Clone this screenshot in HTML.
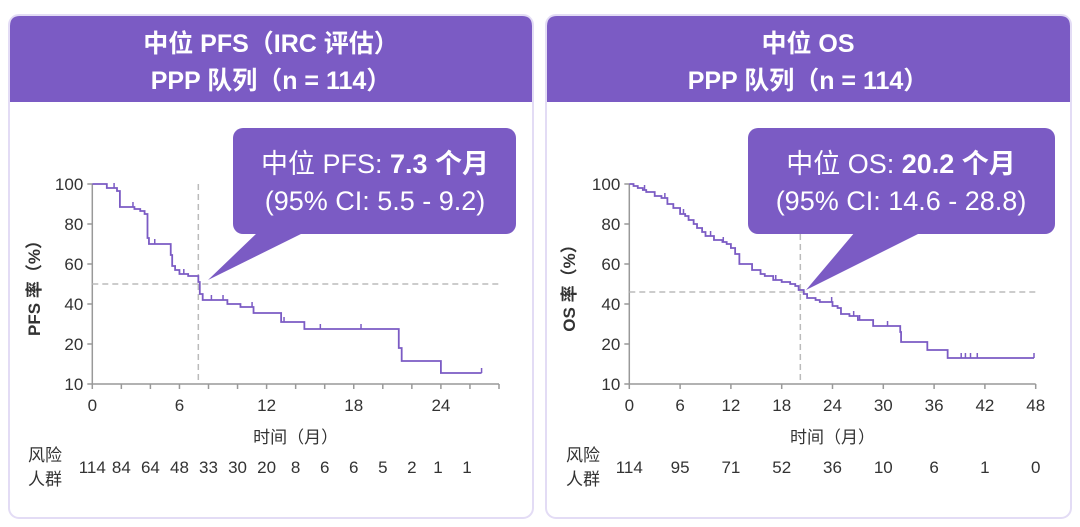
<!DOCTYPE html>
<html><head><meta charset="utf-8">
<style>
html,body{margin:0;padding:0;background:#fff;}
svg{display:block;font-family:"Liberation Sans","Noto Sans CJK SC",sans-serif;}
</style></head>
<body>
<svg id="chart" width="1080" height="527" viewBox="0 0 1080 527" xmlns="http://www.w3.org/2000/svg">
  <!-- Left panel -->
  <g>
    <rect x="9" y="15" width="524" height="503" rx="10" fill="#fff" stroke="#e3dcf5" stroke-width="2"/>
    <path d="M10 26 Q10 16 20 16 L522 16 Q532 16 532 26 L532 102 L10 102 Z" fill="#7b5bc4"/>
    <text x="271" y="52" text-anchor="middle" font-size="25" font-weight="bold" fill="#fff">中位 PFS（IRC 评估）</text>
    <text x="271" y="89" text-anchor="middle" font-size="25" font-weight="bold" fill="#fff">PPP 队列（n = 114）</text>
    <g id="pfsPlot"></g>
    <g>
      <rect x="233" y="128" width="283" height="106" rx="10" fill="#7b5bc4"/>
      <path d="M258 232 L208 280 L305 232 Z" fill="#7b5bc4"/>
      <text x="375" y="173" text-anchor="middle" font-size="27" fill="#fff">中位 PFS: <tspan font-weight="bold">7.3 个月</tspan></text>
      <text x="375" y="210" text-anchor="middle" font-size="27" fill="#fff">(95% CI: 5.5 - 9.2)</text>
    </g>
  </g>
  <!-- Right panel -->
  <g>
    <rect x="546" y="15" width="525" height="503" rx="10" fill="#fff" stroke="#e3dcf5" stroke-width="2"/>
    <path d="M547 26 Q547 16 557 16 L1060 16 Q1070 16 1070 26 L1070 102 L547 102 Z" fill="#7b5bc4"/>
    <text x="808" y="52" text-anchor="middle" font-size="25" font-weight="bold" fill="#fff">中位 OS</text>
    <text x="808" y="89" text-anchor="middle" font-size="25" font-weight="bold" fill="#fff">PPP 队列（n = 114）</text>
    <g id="osPlot"></g>
    <g>
      <rect x="748" y="128" width="307" height="106" rx="10" fill="#7b5bc4"/>
      <path d="M855 232 L806 290 L922 232 Z" fill="#7b5bc4"/>
      <text x="901" y="173" text-anchor="middle" font-size="27" fill="#fff">中位 OS:  <tspan font-weight="bold">20.2 个月</tspan></text>
      <text x="901" y="210" text-anchor="middle" font-size="27" fill="#fff">(95% CI: 14.6 - 28.8)</text>
    </g>
  </g>
</svg>
<script>
// PFS data (months, %)
const pfsTimes = [0,1.0,1.7,1.9,2.9,3.3,3.6,3.8,3.9,5.4,5.5,5.7,6.0,6.6,7.3,7.4,7.6,9.3,10.2,11.1,13.0,14.6,21.1,21.3,24.0];
const pfsSurv  = [100,98,96.5,88.5,87.5,86.5,85,73,70,64.5,59,57,55,54,51,45,42,40,38.5,35.5,31,27.5,18,11.5,5.5];
const pfsEnd = 26.8;
const pfsCensor = [1.5,2.8,4.3,6.3,8.2,9.0,11.0,13.2,15.7,18.5,26.8];
const pfsRiskTimes = [0,2,4,6,8,10,12,14,16,18,20,22,23.8,25.8];
const pfsRisk = [114,84,64,48,33,30,20,8,6,6,5,2,1,1];
const pfsXTicks = [0,6,12,18,24];
const pfsMedian = 7.3, pfsMedY = 50;

// OS data
const osTimes = [0,0.5,1,1.6,2,3,3.8,4.5,5.2,6,6.6,7,7.6,8,8.6,9,10,11,11.5,12,12.5,13,14.5,15.5,16,17,18,19,19.6,20,20.6,21,22,22.5,24,24.6,25,26,27,28.8,32,32.1,35.2,37.6];
const osSurv  = [100,99,98,97,96,94,93,90,88,85,84,82,80,78,76,74,72,71,70,68,65,60,57,55,54,52,51,50,49,47,45,43,42,41,39,38,35,34,32,29,26,21,17,13];
const osEnd = 47.8;
const osCensor = [1.8,4.2,6.4,9.6,11.1,17.3,23.9,26.5,27.2,30.5,39.2,39.7,40.3,41.1,47.8];
const osRiskTimes = [0,6,12,18,24,30,36,42,48];
const osRisk = [114,95,71,52,36,10,6,1,0];
const osXTicks = [0,6,12,18,24,30,36,42,48];
const osMedian = 20.2, osMedY = 46;

const yTicks = [0,20,40,60,80,100];
const yTickLabels = ['10','20','40','60','80','100'];

const NS = 'http://www.w3.org/2000/svg';
function mk(tag, attrs, parent){const e=document.createElementNS(NS,tag);for(const k in attrs)e.setAttribute(k,attrs[k]);parent.appendChild(e);return e;}

function draw(g, cfg){
  const x = t => cfg.x0 + (t/cfg.xMax)*(cfg.x1-cfg.x0);
  const y = v => 384 - v*2;
  const gray='#999';
  // axes
  let ax = mk('line',{x1:x(0),y1:y(0),x2:x(cfg.xMax),y2:y(0),stroke:gray,'stroke-width':1.5},g);
  
  
  let ay = mk('line',{x1:x(0),y1:y(0),x2:x(0),y2:y(100),stroke:gray,'stroke-width':1.5},g);
  
  
  yTicks.forEach((v,i)=>{
    mk('line',{x1:x(0)-5,y1:y(v),x2:x(0),y2:y(v),stroke:gray,'stroke-width':1.5},g);
    const t = mk('text',{x:x(0)-9,y:y(v)+6,'text-anchor':'end','font-size':17,fill:'#333'},g);
    t.textContent = yTickLabels[i];
    
    
  });
  for(let t=0;t<=cfg.xMax+0.001;t+=cfg.minor){
    mk('line',{x1:x(t),y1:y(0),x2:x(t),y2:y(0)+5,stroke:gray,'stroke-width':1.5},g);
  }
  cfg.xTicks.forEach(v=>{
    const t = mk('text',{x:x(v),y:y(0)+27,'text-anchor':'middle','font-size':17,fill:'#333'},g);
    t.textContent = v;
    
    
  });
  // axis titles
  const xt = mk('text',{x:(x(0)+x(cfg.xMax))/2,y:443,'text-anchor':'middle','font-size':17,fill:'#333'},g);
  xt.textContent='时间（月）';
  
  
  const yt = mk('text',{x:0,y:0,'text-anchor':'middle','font-size':17,'font-weight':'bold',fill:'#333',transform:`translate(${cfg.ytx},${y(50)}) rotate(-90)`},g);
  yt.textContent=cfg.ytitle;
  
  
  // median guides
  const dh = mk('line',{x1:x(0),y1:y(cfg.medY),x2:x(cfg.xMax),y2:y(cfg.medY),stroke:'#bbb','stroke-width':1.5,'stroke-dasharray':'6,4'},g);
  
  
  const dv = mk('line',{x1:x(cfg.med),y1:y(100),x2:x(cfg.med),y2:y(0),stroke:'#bbb','stroke-width':1.5,'stroke-dasharray':'6,4'},g);
  
  
  // curve
  let d = `M${x(cfg.times[0])} ${y(cfg.surv[0])}`;
  for(let i=1;i<cfg.times.length;i++){
    d += ` H${x(cfg.times[i])} V${y(cfg.surv[i])}`;
  }
  d += ` H${x(cfg.end)}`;
  const c = mk('path',{d:d,fill:'none',stroke:'#7b5bc4','stroke-width':1.8},g);
  
  
  const survAt = t => {let s=cfg.surv[0];for(let i=0;i<cfg.times.length;i++){if(cfg.times[i]<=t)s=cfg.surv[i];}return s;};
  cfg.censor.forEach(t=>{
    const m = mk('line',{x1:x(t),y1:y(survAt(t)),x2:x(t),y2:y(survAt(t))-5,stroke:'#7b5bc4','stroke-width':1.5},g);
    
    
  });
  // risk table
  const r1 = mk('text',{x:cfg.rlx,y:461,'text-anchor':'middle','font-size':17,fill:'#333'},g);
  r1.textContent='风险';
  
  
  const r2 = mk('text',{x:cfg.rlx,y:485,'text-anchor':'middle','font-size':17,fill:'#333'},g);
  r2.textContent='人群';
  
  
  cfg.riskT.forEach((t,i)=>{
    const n = mk('text',{x:x(t),y:473,'text-anchor':'middle','font-size':17,fill:'#333'},g);
    n.textContent = cfg.risk[i];
    
    
  });
}
draw(document.getElementById('pfsPlot'),{p:'pfs',x0:92.3,x1:499,xMax:28,minor:2,xTicks:pfsXTicks,times:pfsTimes,surv:pfsSurv,end:pfsEnd,censor:pfsCensor,riskT:pfsRiskTimes,risk:pfsRisk,med:pfsMedian,medY:pfsMedY,ytitle:'PFS 率（%）',ytx:40,rlx:45});
draw(document.getElementById('osPlot'),{p:'os',x0:629.3,x1:1035.7,xMax:48,minor:6,xTicks:osXTicks,times:osTimes,surv:osSurv,end:osEnd,censor:osCensor,riskT:osRiskTimes,risk:osRisk,med:osMedian,medY:osMedY,ytitle:'OS 率（%）',ytx:575,rlx:583});
</script>
</body></html>
